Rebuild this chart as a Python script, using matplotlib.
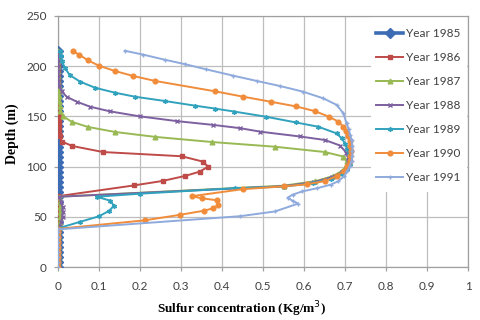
import matplotlib
matplotlib.use('Agg')
import matplotlib.pyplot as plt
from matplotlib.patches import Rectangle

# (concentration, depth) points
d_1985 = [0, 5, 10, 15, 20, 25, 30, 35, 40, 45, 50, 55, 60, 65, 70, 75, 80, 85, 90, 95,
          100, 105, 110, 115, 120, 125, 130, 135, 140, 145, 150, 155, 160, 165, 170, 175,
          180, 185, 190, 195, 200, 205, 210, 215]
c_1985 = [0.0] * len(d_1985)

pts_1986 = [(0, 0), (0, 5), (0, 10), (0, 15), (0, 20), (0, 25), (0, 30), (0, 35), (0, 40),
            (0, 45), (0, 50), (0, 55), (0, 60), (0, 65), (0, 70.5),
            (0.186, 81.3), (0.255, 85.7), (0.31, 90.7), (0.346, 95), (0.366, 100),
            (0.353, 105), (0.302, 110.3), (0.11, 114.5), (0.035, 120.5), (0.009, 125),
            (0.004, 130), (0.003, 135), (0.002, 140), (0.002, 145), (0.002, 150),
            (0.001, 155), (0.001, 160), (0, 165), (0, 170), (0, 175), (0, 180), (0, 185),
            (0, 190), (0, 195), (0, 200), (0, 205), (0, 210), (0, 215)]

pts_1987 = [(0, 0), (0, 5), (0, 10), (0, 15), (0, 20), (0, 25), (0, 30), (0, 35),
            (0.003, 40), (0.004, 45), (0.005, 50), (0.005, 55), (0.005, 60), (0.004, 65),
            (0.002, 70), (0.55, 81), (0.628, 85.5), (0.67, 90.5), (0.692, 95.5),
            (0.703, 100.5), (0.705, 105.5), (0.696, 110), (0.651, 114.5), (0.529, 119.8),
            (0.375, 124.5), (0.237, 129.6), (0.139, 134.5), (0.072, 139.6), (0.033, 144.7),
            (0.013, 150), (0.006, 155), (0.004, 160), (0.003, 165), (0.003, 170),
            (0.002, 175), (0.002, 180), (0, 185), (0, 190), (0, 195), (0, 200), (0, 205),
            (0, 210), (0, 215)]

pts_1988 = [(0, 0), (0, 5), (0, 10), (0, 15), (0, 20), (0, 25), (0, 30), (0, 35),
            (0.004, 40), (0.008, 45), (0.011, 50), (0.012, 55), (0.011, 60), (0.008, 65),
            (0.003, 70), (0.55, 80.5), (0.625, 84.5), (0.668, 89.5), (0.693, 94.5),
            (0.704, 99.5), (0.708, 104.5), (0.707, 109.5), (0.703, 114), (0.688, 121),
            (0.651, 126.5), (0.59, 130), (0.493, 134.8), (0.444, 138.3), (0.379, 141.5),
            (0.29, 145.3), (0.2, 150), (0.127, 155), (0.078, 159.7), (0.046, 164.6),
            (0.021, 169.6), (0.009, 175), (0.003, 180), (0.001, 185), (0, 190), (0, 195),
            (0, 200), (0, 205), (0, 210), (0, 215)]

pts_1989 = [(0, 0), (0, 5), (0, 10), (0, 15), (0, 20), (0, 25), (0, 30), (0, 35), (0, 38.5),
            (0.054, 45), (0.1, 50.5), (0.125, 56), (0.136, 61), (0.128, 66), (0.094, 70),
            (0.2, 73), (0.432, 78.5), (0.55, 80), (0.622, 83.5), (0.665, 88), (0.692, 93),
            (0.705, 98), (0.711, 103), (0.712, 108), (0.71, 113), (0.706, 118), (0.7, 123),
            (0.692, 128), (0.68, 133), (0.635, 139.7), (0.58, 144), (0.507, 149.7),
            (0.43, 154.8), (0.383, 157.8), (0.334, 160.7), (0.261, 165.3), (0.188, 169.6),
            (0.139, 173.6), (0.09, 178.6), (0.054, 184.6), (0.029, 191), (0.017, 198),
            (0.01, 205), (0.007, 210), (0.005, 215.5)]

pts_1990 = [(0, 0), (0, 5), (0, 10), (0, 15), (0, 20), (0, 25), (0, 30), (0, 35), (0, 38),
            (0.212, 46.5), (0.298, 52), (0.355, 56), (0.379, 58.5), (0.391, 61.5),
            (0.387, 66.5), (0.35, 68.5), (0.326, 70.5), (0.45, 77.5), (0.55, 80.3),
            (0.607, 82.4), (0.651, 85.6), (0.68, 90.6), (0.697, 95.5), (0.706, 100.5),
            (0.711, 105.5), (0.713, 110.5), (0.714, 115.5), (0.713, 120.5), (0.711, 125.5),
            (0.707, 130.5), (0.703, 135.5), (0.696, 139.7), (0.684, 144.7), (0.661, 149.7),
            (0.627, 155.2), (0.58, 160), (0.519, 164.6), (0.452, 169.6), (0.383, 175),
            (0.237, 185.3), (0.183, 190.3), (0.138, 195.3), (0.1, 200.5), (0.073, 205.8),
            (0.052, 211.5), (0.036, 215)]

pts_1991 = [(0, 0), (0, 5), (0, 10), (0, 15), (0, 20), (0, 25), (0, 30), (0, 35), (0, 37.5),
            (0.444, 50.6), (0.529, 55.3), (0.586, 63.2), (0.572, 66), (0.56, 69),
            (0.572, 72), (0.595, 75.2), (0.631, 78.4), (0.665, 82), (0.684, 85.5),
            (0.698, 90.5), (0.706, 96), (0.712, 101), (0.716, 106), (0.718, 111),
            (0.718, 116), (0.718, 121), (0.716, 126), (0.713, 131), (0.709, 137),
            (0.704, 143), (0.696, 153), (0.68, 161.4), (0.647, 168), (0.598, 174.6),
            (0.541, 180.3), (0.485, 185.3), (0.428, 190.5), (0.36, 197), (0.31, 202),
            (0.26, 206.5), (0.208, 211.5), (0.163, 215.4)]

years = ['Year 1985', 'Year 1986', 'Year 1987', 'Year 1988', 'Year 1989', 'Year 1990', 'Year 1991']

colors = ['#3C6DB4', '#BE4B48', '#98B954', '#7D60A0', '#31A2BD', '#F08C3A', '#8FAADC']
markers = ['D', 's', '^', 'x', (6, 2, 0), 'o', '+']

series = [list(zip(c_1985, d_1985)), pts_1986, pts_1987, pts_1988, pts_1989, pts_1990, pts_1991]

fig = plt.figure(figsize=(4.8, 3.2), dpi=100)
ax = fig.add_axes([58/480, 53/320, 410/480, 251/320])

for i, pts in enumerate(series):
    c = [p[0] for p in pts]
    d = [p[1] for p in pts]
    if i == 0:
        ax.plot(c, d, color=colors[i], lw=2.6, marker=markers[i], ms=5.5,
                label=years[i], zorder=3)
    else:
        ax.plot(c, d, color=colors[i], lw=1.4, marker=markers[i], ms=3.4,
                mew=1.0, label=years[i], zorder=3 + i)

ax.set_xlim(0, 1)
ax.set_ylim(0, 250)
ax.set_xticks([0, 0.1, 0.2, 0.3, 0.4, 0.5, 0.6, 0.7, 0.8, 0.9, 1])
ax.set_xticklabels(['0', '0.1', '0.2', '0.3', '0.4', '0.5', '0.6', '0.7', '0.8', '0.9', '1'])
ax.set_yticks([0, 50, 100, 150, 200, 250])

ax.set_axisbelow(True)
ax.grid(True, color='#BEBEBE', lw=0.9)
for s in ax.spines.values():
    s.set_color('#A0A0A0')
    s.set_linewidth(0.9)
ax.tick_params(colors='#A0A0A0', length=3, width=0.9, labelcolor='#404040')
ax.tick_params(axis='x', pad=7)
ax.tick_params(axis='y', pad=5)
for lab in ax.get_xticklabels() + ax.get_yticklabels():
    lab.set_fontfamily('Lato')
    lab.set_fontsize(8.5)

# white area behind the legend covering the grid
ax.add_patch(Rectangle((313/410, 75/251), 96/410, 175/251, transform=ax.transAxes,
                       facecolor='white', edgecolor='none', zorder=1.5))

leg = ax.legend(loc='upper left', bbox_to_anchor=(376/480, 1 - 28/320),
                bbox_transform=fig.transFigure, frameon=False, borderpad=0,
                borderaxespad=0, handlelength=2.3, handletextpad=0.25,
                labelspacing=1.1, prop={'family': 'Lato', 'size': 8.5})
for t in leg.get_texts():
    t.set_color('#404040')

fig.text(242/480, 1 - 309/320, 'Sulfur concentration (Kg/m$^3$)', ha='center', va='center',
         fontfamily='Liberation Serif', fontweight='bold', fontsize=9.5)
fig.text(12/480, 1 - 134/320, 'Depth (m)', ha='center', va='center', rotation=90,
         fontfamily='Liberation Serif', fontweight='bold', fontsize=10)

fig.savefig('out.png', dpi=100)
